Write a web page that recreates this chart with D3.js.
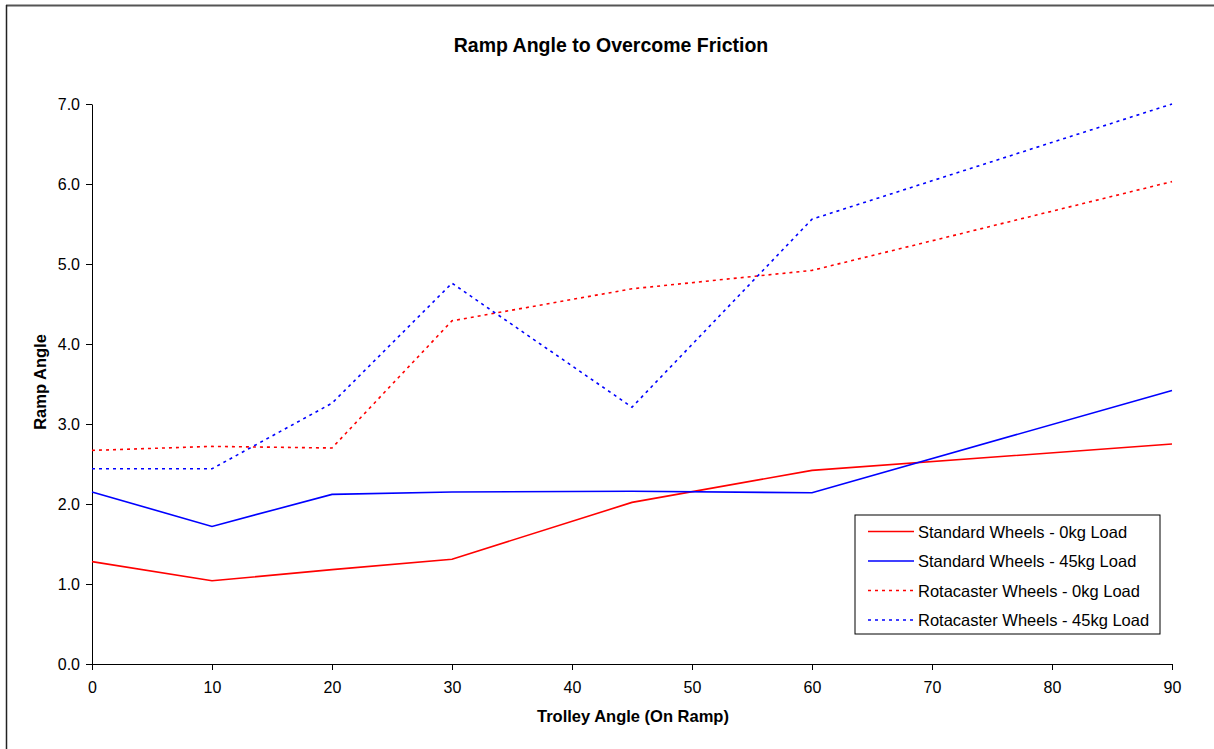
<!DOCTYPE html>
<html>
<head>
<meta charset="utf-8">
<script src="https://cdn.jsdelivr.net/npm/d3@7"></script>
<style>
  html, body { margin: 0; padding: 0; background: #fff; }
  svg { display: block; font-family: "Liberation Sans", Arial, sans-serif; }
</style>
</head>
<body>
<svg id="chart" width="1214" height="749"></svg>
<script>
const trolleyAngles = [0, 10, 20, 30, 45, 60, 90];
const standard0kg   = [1.28, 1.04, 1.18, 1.31, 2.02, 2.42, 2.75];
const standard45kg  = [2.15, 1.72, 2.12, 2.15, 2.16, 2.14, 3.42];
const rotacaster0kg = [2.67, 2.72, 2.70, 4.29, 4.69, 4.92, 6.03];
const rotacaster45kg= [2.44, 2.44, 3.26, 4.76, 3.21, 5.56, 7.00];
const seriesNames = ["Standard Wheels - 0kg Load", "Standard Wheels - 45kg Load",
                     "Rotacaster Wheels - 0kg Load", "Rotacaster Wheels - 45kg Load"];
const xTicks = [0, 10, 20, 30, 40, 50, 60, 70, 80, 90];
const yTicks = [0, 1, 2, 3, 4, 5, 6, 7];

(function () {
const series = [
  { name: seriesNames[0], values: standard0kg,    color: "#ff0000", dash: null },
  { name: seriesNames[1], values: standard45kg,   color: "#0000ff", dash: null },
  { name: seriesNames[2], values: rotacaster0kg,  color: "#ff0000", dash: "3,4" },
  { name: seriesNames[3], values: rotacaster45kg, color: "#0000ff", dash: "3,4" }
];

const svg = d3.select("#chart");
const pL = 92, pR = 1172, pT = 104, pB = 664;
const x = d3.scaleLinear().domain([0, 90]).range([pL, pR]);
const y = d3.scaleLinear().domain([0, 7]).range([pB, pT]);

// outer frame (top & left)
svg.append("line").attr("x1", 6).attr("x2", 1214).attr("y1", 5.5).attr("y2", 5.5)
  .attr("stroke", "#555").attr("stroke-width", 2);
svg.append("line").attr("x1", 6.5).attr("x2", 6.5).attr("y1", 5).attr("y2", 749)
  .attr("stroke", "#222").attr("stroke-width", 1.5);

// title
svg.append("text").attr("x", 611).attr("y", 52).attr("text-anchor", "middle")
  .attr("font-size", 19.5).attr("font-weight", "bold").text("Ramp Angle to Overcome Friction");

// axes
const xAxis = svg.append("g").attr("transform", `translate(0,${pB})`)
  .call(d3.axisBottom(x).tickValues(xTicks).tickSize(6).tickSizeOuter(0).tickPadding(12));
const yAxis = svg.append("g").attr("transform", `translate(${pL},0)`)
  .call(d3.axisLeft(y).tickValues(yTicks).tickFormat(d3.format(".1f")).tickSize(6).tickSizeOuter(0).tickPadding(6));
[xAxis, yAxis].forEach(g => {
  g.selectAll("path, line").attr("stroke", "#000").attr("stroke-width", 1);
  g.selectAll("text").attr("font-size", 16).attr("fill", "#000")
    .attr("font-family", "'Liberation Sans', Arial, sans-serif");
});

// axis titles
svg.append("text").attr("x", 633).attr("y", 722).attr("text-anchor", "middle")
  .attr("font-size", 16.5).attr("font-weight", "bold").text("Trolley Angle (On Ramp)");
svg.append("text").attr("transform", `translate(46,382) rotate(-90)`)
  .attr("text-anchor", "middle").attr("font-size", 16.5).attr("font-weight", "bold").text("Ramp Angle");

// lines
const line = d3.line().x((d, i) => x(trolleyAngles[i])).y(d => y(d));
series.forEach(s => {
  svg.append("path").datum(s.values).attr("d", line)
    .attr("fill", "none").attr("stroke", s.color).attr("stroke-width", 1.6)
    .attr("stroke-dasharray", s.dash);
});

// legend
const lg = svg.append("g").attr("transform", "translate(855,515)");
lg.append("rect").attr("x", 0).attr("y", 0).attr("width", 305).attr("height", 119)
  .attr("fill", "#fff").attr("stroke", "#000").attr("stroke-width", 1);
series.forEach((s, i) => {
  const cy = 16.5 + i * 29.5;
  lg.append("line").attr("x1", 13).attr("x2", 59).attr("y1", cy).attr("y2", cy)
    .attr("stroke", s.color).attr("stroke-width", 1.6).attr("stroke-dasharray", s.dash);
  lg.append("text").attr("x", 63).attr("y", cy + 6).attr("font-size", 16.5).text(s.name);
});
})();
</script>
</body>
</html>
